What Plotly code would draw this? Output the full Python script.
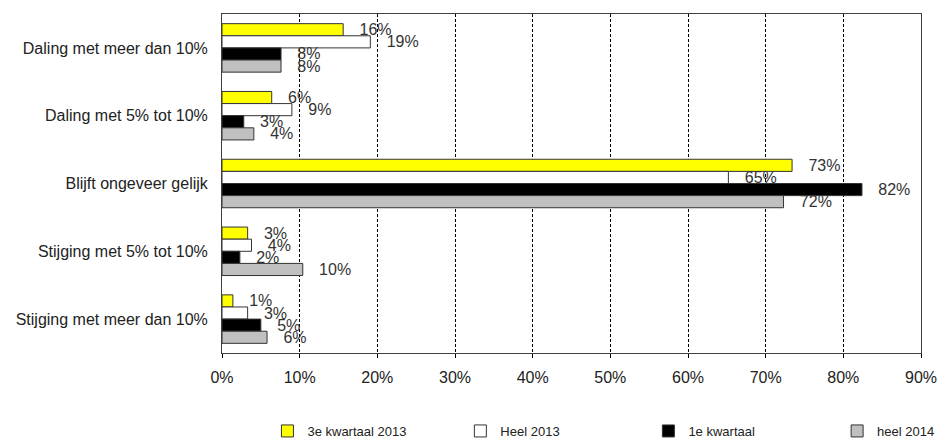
import plotly.graph_objects as go

categories = [
    "Daling met meer dan 10%",
    "Daling met 5% tot 10%",
    "Blijft ongeveer gelijk",
    "Stijging met 5% tot 10%",
    "Stijging met meer dan 10%",
]
series_names = ["3e kwartaal 2013", "Heel 2013", "1e kwartaal", "heel 2014"]
kw3_2013 = [15.6, 6.4, 73.4, 3.3, 1.4]
heel_2013 = [19.1, 9.0, 65.2, 3.8, 3.3]
kw1 = [7.6, 2.8, 82.4, 2.3, 5.0]
heel_2014 = [7.6, 4.1, 72.3, 10.4, 5.8]
series_values = [kw3_2013, heel_2013, kw1, heel_2014]
colors = ["#FFFF00", "#FFFFFF", "#000000", "#C0C0C0"]
x_ticks = [0, 10, 20, 30, 40, 50, 60, 70, 80, 90]
x_tick_labels = [f"{t}%" for t in x_ticks]

FONT = "Liberation Sans, Arial, sans-serif"
label_font = dict(family=FONT, size=16, color="#333333")
legend_ids = ["legend", "legend2", "legend3", "legend4"]
legend_x = [0.065, 0.341, 0.610, 0.880]

fig = go.Figure()
for name, vals, col, lid in zip(series_names, series_values, colors, legend_ids):
    fig.add_trace(go.Bar(
        y=categories, x=vals, name=name, orientation="h",
        marker=dict(color=col, line=dict(color="#333333", width=1)),
        text=[f"   {round(v)}%" for v in vals],
        textposition="outside", cliponaxis=False, constraintext="none",
        textfont=label_font, outsidetextfont=label_font,
        hoverinfo="x+y", legend=lid,
    ))

legend_common = dict(
    orientation="h", xref="paper", yref="container",
    y=0.016, xanchor="left", yanchor="middle",
    font=dict(family=FONT, size=13, color="#222222"),
    itemwidth=30, bgcolor="rgba(0,0,0,0)",
)
legend_layout = {lid: dict(legend_common, x=lx) for lid, lx in zip(legend_ids, legend_x)}

fig.update_layout(
    width=947, height=438,
    margin=dict(l=222, r=26, t=14, b=85, autoexpand=False),
    paper_bgcolor="white", plot_bgcolor="white",
    barmode="group", bargap=0.285, bargroupgap=0,
    font=dict(family=FONT, size=16, color="#222222"),
    showlegend=True,
    **legend_layout,
)
fig.update_xaxes(
    range=[0, 90], tickvals=x_ticks, ticktext=x_tick_labels,
    showgrid=True, gridcolor="#000000", griddash="3px,2px", gridwidth=1,
    showline=True, linecolor="#404040", linewidth=1, mirror=True,
    ticks="outside", ticklen=4, tickcolor="#000000",
    ticklabelstandoff=6, zeroline=False,
    tickfont=dict(family=FONT, size=16, color="#222222"),
)
fig.update_yaxes(
    autorange="reversed",
    showline=True, linecolor="#404040", linewidth=1, mirror=True,
    showgrid=False, ticks="", ticklabelstandoff=10,
    tickfont=dict(family=FONT, size=16, color="#222222"),
)

fig.write_html("out.html")
